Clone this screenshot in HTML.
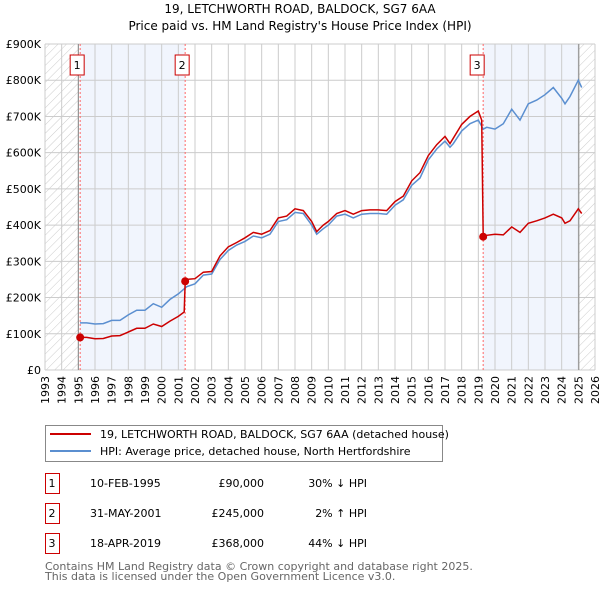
<!DOCTYPE html>
<html><head><meta charset="utf-8"><style>
body{margin:0;background:#fff;font-family:"DejaVu Sans","Liberation Sans",sans-serif;}
svg text{font-family:"DejaVu Sans","Liberation Sans",sans-serif;}
</style></head><body>
<svg id="c" width="600" height="590" xmlns="http://www.w3.org/2000/svg">
<defs><pattern id="hatch" width="6" height="6" patternUnits="userSpaceOnUse" patternTransform="rotate(45)"><line x1="0" y1="0" x2="0" y2="6" stroke="#ccc" stroke-width="1"/></pattern></defs>
<text x="300" y="13" text-anchor="middle" font-size="12">19, LETCHWORTH ROAD, BALDOCK, SG7 6AA</text>
<text x="300" y="30" text-anchor="middle" font-size="12">Price paid vs. HM Land Registry's House Price Index (HPI)</text>
<g id="plot"></g>
<g>
<rect x="45.5" y="425.5" width="397" height="36" fill="#fff" stroke="#888"/>
<line x1="50" y1="434" x2="91" y2="434" stroke="#cc0000" stroke-width="2"/>
<text x="100" y="438" font-size="11">19, LETCHWORTH ROAD, BALDOCK, SG7 6AA (detached house)</text>
<line x1="50" y1="451" x2="91" y2="451" stroke="#5b8fd0" stroke-width="2"/>
<text x="100" y="455" font-size="11">HPI: Average price, detached house, North Hertfordshire</text>
</g>
<g id="table" font-size="11"></g>
<text x="45" y="570" font-size="11" fill="#666">Contains HM Land Registry data © Crown copyright and database right 2025.</text>
<text x="45" y="580" font-size="11" fill="#666">This data is licensed under the Open Government Licence v3.0.</text>
</svg>
<script>
const yTicks=[0,100,200,300,400,500,600,700,800,900];
const yTickLabels=["£0","£100K","£200K","£300K","£400K","£500K","£600K","£700K","£800K","£900K"];
const xTicks=[1993,1994,1995,1996,1997,1998,1999,2000,2001,2002,2003,2004,2005,2006,2007,2008,2009,2010,2011,2012,2013,2014,2015,2016,2017,2018,2019,2020,2021,2022,2023,2024,2025,2026];
const hpiYears=[1995.1,1995.5,1996,1996.5,1997,1997.5,1998,1998.5,1999,1999.5,2000,2000.5,2001,2001.5,2002,2002.5,2003,2003.5,2004,2004.5,2005,2005.5,2006,2006.5,2007,2007.5,2008,2008.5,2009,2009.3,2009.7,2010,2010.5,2011,2011.5,2012,2012.5,2013,2013.5,2014,2014.5,2015,2015.5,2016,2016.5,2017,2017.3,2017.5,2018,2018.5,2019,2019.3,2019.5,2020,2020.5,2021,2021.5,2022,2022.5,2023,2023.5,2024,2024.2,2024.5,2025,2025.2];
const hpiValues=[130,130,127,128,137,137,152,165,165,183,173,195,210,230,238,262,265,305,330,345,355,370,365,375,410,415,435,432,400,375,390,400,425,430,420,430,432,432,430,455,470,510,530,580,610,632,615,625,660,680,690,665,670,665,680,720,690,735,745,760,780,750,735,755,800,780];
const saleYears=[1995.11,2001.41,2019.29];
const saleValues=[90,245,368];
const redYears=[1995.11,1995.5,1996,1996.5,1997,1997.5,1998,1998.5,1999,1999.5,2000,2000.5,2001,2001.35,2001.41,2001.5,2002,2002.5,2003,2003.5,2004,2004.5,2005,2005.5,2006,2006.5,2007,2007.5,2008,2008.5,2009,2009.3,2009.7,2010,2010.5,2011,2011.5,2012,2012.5,2013,2013.5,2014,2014.5,2015,2015.5,2016,2016.5,2017,2017.3,2017.5,2018,2018.5,2019,2019.2,2019.29,2019.5,2020,2020.5,2021,2021.5,2022,2022.5,2023,2023.5,2024,2024.2,2024.5,2025,2025.2];
const redValues=[90,90,86,87,94,95,105,115,115,127,120,135,148,160,245,250,252,270,272,315,340,352,365,380,375,385,420,425,445,440,410,382,400,410,432,440,430,440,442,442,440,465,480,522,545,592,622,645,625,640,678,700,715,690,368,372,375,373,395,380,405,412,420,430,420,405,412,445,432];
const X0=45,X1=595,Y0=370,Y1=44;
const xs=y=>X0+(y-1993)*(X1-X0)/33;
const ys=v=>Y0-v*(Y0-Y1)/900;
const NS="http://www.w3.org/2000/svg";
const plot=document.getElementById('plot');
function mk(t,a,p){const e=document.createElementNS(NS,t);for(const k in a)e.setAttribute(k,a[k]);(p||plot).appendChild(e);return e;}
let e;
e=mk('rect',{x:X0,y:Y1,width:X1-X0,height:Y0-Y1,fill:'#fff'});
e=mk('rect',{x:X0,y:Y1,width:xs(1995)-X0,height:Y0-Y1,fill:'url(#hatch)'});


e=mk('rect',{x:xs(2025.03),y:Y1,width:X1-xs(2025.03),height:Y0-Y1,fill:'url(#hatch)'});


e=mk('rect',{x:xs(saleYears[0]),y:Y1,width:xs(saleYears[1])-xs(saleYears[0]),height:Y0-Y1,fill:'#eef3fc',opacity:0.8});


e=mk('rect',{x:xs(saleYears[2]),y:Y1,width:xs(2025.03)-xs(saleYears[2]),height:Y0-Y1,fill:'#eef3fc',opacity:0.8});


xTicks.forEach(t=>{
 e=mk('line',{x1:xs(t),x2:xs(t),y1:Y1,y2:Y0,stroke:'#ccc','stroke-width':1});
 
 
 const x=xs(t);
 e=mk('text',{x:0,y:0,'font-size':11,'text-anchor':'end',transform:`translate(${x+4},376) rotate(-90)`});
 e.textContent=t;
 
 
});
yTicks.forEach((t,i)=>{
 e=mk('line',{x1:X0,x2:X1,y1:ys(t),y2:ys(t),stroke:'#ccc','stroke-width':1});
 
 
 e=mk('text',{x:41,y:ys(t)+4,'font-size':11,'text-anchor':'end'});
 e.textContent=yTickLabels[i];
 
 
});
e=mk('line',{x1:xs(1995),x2:xs(1995),y1:Y1,y2:Y0,stroke:'#888'});
e=mk('line',{x1:xs(2025.03),x2:xs(2025.03),y1:Y1,y2:Y0,stroke:'#888'});
saleYears.forEach((s,i)=>{
 e=mk('line',{x1:xs(s),x2:xs(s),y1:Y1,y2:Y0,stroke:'#f66','stroke-dasharray':'2,2'});
 
 
});
function path(xa,va){return xa.map((y,i)=>(i?'L':'M')+xs(y).toFixed(1)+','+ys(va[i]).toFixed(1)).join('');}
e=mk('path',{d:path(hpiYears,hpiValues),fill:'none',stroke:'#5b8fd0','stroke-width':1.5});


e=mk('path',{d:path(redYears,redValues),fill:'none',stroke:'#cc0000','stroke-width':1.5});


saleYears.forEach((s,i)=>{
 e=mk('circle',{cx:xs(s),cy:ys(saleValues[i]),r:4,fill:'#cc0000'});
 
 
 const bx=xs(s)-(i==2?3:0);
 e=mk('rect',{x:bx-10,y:55,width:14,height:20,fill:'#fff',stroke:'#cc0000'});
 
 
 e=mk('text',{x:bx-3,y:69,'font-size':11,'text-anchor':'middle'});
 e.textContent=String(i+1);
 
 
});
const tDates=["10-FEB-1995","31-MAY-2001","18-APR-2019"];
const tPrices=["£90,000","£245,000","£368,000"];
const tDiffs=["30% ↓ HPI","2% ↑ HPI","44% ↓ HPI"];
const tb=document.getElementById('table');
tDates.forEach((d,i)=>{
 const y=483+i*30;
 e=mk('rect',{x:45.5,y:y-9.5,width:14,height:20,fill:'#fff',stroke:'#cc0000'},tb);
 
 
 e=mk('text',{x:52,y:y+4,'text-anchor':'middle'},tb);e.textContent=String(i+1);
 e=mk('text',{x:90,y:y+4},tb);e.textContent=d;
 
 
 e=mk('text',{x:264,y:y+4,'text-anchor':'end'},tb);e.textContent=tPrices[i];
 
 
 e=mk('text',{x:367,y:y+4,'text-anchor':'end'},tb);e.textContent=tDiffs[i];
 
 
});
</script>
</body></html>
